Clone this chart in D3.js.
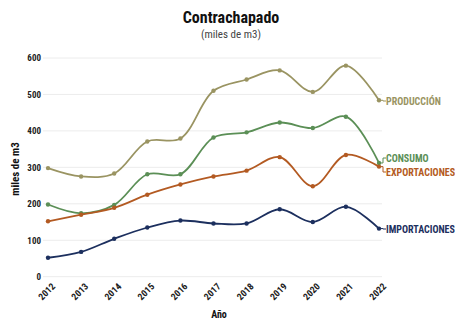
<!DOCTYPE html>
<html>
<head>
<meta charset="utf-8">
<script src="https://cdn.jsdelivr.net/npm/d3@7"></script>
<style>
  body { margin: 0; background: #fff; }
  svg text { font-family: "Roboto Condensed", "Liberation Sans Narrow", Roboto, sans-serif; }
</style>
</head>
<body>
<div id="vis"></div>
<script>
var years = [2012, 2013, 2014, 2015, 2016, 2017, 2018, 2019, 2020, 2021, 2022];
var produccion = [298, 275, 283, 371, 379, 510, 541, 566, 507, 579, 484];
var consumo = [198, 174, 197, 281, 281, 382, 396, 423, 408, 439, 312];
var exportaciones = [152, 170, 189, 225, 253, 275, 291, 328, 248, 334, 302];
var importaciones = [52, 68, 104, 135, 154, 146, 146, 185, 150, 192, 132];
var yTicks = [0, 100, 200, 300, 400, 500, 600];

var series = [
  {name: 'PRODUCCIÓN', values: produccion, color: '#9a9462', labelY: 101},
  {name: 'CONSUMO', values: consumo, color: '#5b8f56', labelY: 158},
  {name: 'EXPORTACIONES', values: exportaciones, color: '#b35a22', labelY: 172},
  {name: 'IMPORTACIONES', values: importaciones, color: '#1c2f5e', labelY: 229},
];

var width = 455;
var height = 322;
var margin = {top: 58, right: 73, bottom: 45, left: 48};

var svg = d3
  .select('#vis')
  .append('svg')
  .attr('width', width)
  .attr('height', height);

var x = d3
  .scalePoint()
  .domain(years)
  .range([margin.left, width - margin.right - 3]);

var y = d3
  .scaleLinear()
  .domain([0, 600])
  .range([height - margin.bottom - 0.3, margin.top]);

// title
svg
  .append('text')
  .attr('x', 231)
  .attr('y', 23)
  .attr('text-anchor', 'middle')
  .style('font-size', '16px')
  .style('font-weight', 'bold')
  .style('fill', '#111')
  .text('Contrachapado');

svg
  .append('text')
  .attr('x', 231)
  .attr('y', 38)
  .attr('text-anchor', 'middle')
  .style('font-size', '11px')
  .style('fill', '#444')
  .text('(miles de m3)');

// grid lines
svg
  .append('g')
  .selectAll('line')
  .data(yTicks)
  .enter()
  .append('line')
  .attr('x1', 43)
  .attr('x2', 382)
  .attr('y1', d => y(d))
  .attr('y2', d => y(d))
  .style('stroke', '#ececec')
  .style('stroke-width', 1);

// y axis
var yAxis = svg
  .append('g')
  .attr('transform', 'translate(43,0)')
  .call(d3.axisLeft(y).tickValues(yTicks).tickSize(0).tickPadding(2));
yAxis.select('.domain').remove();
yAxis
  .selectAll('text')
  .style('font-size', '9px')
  .style('font-weight', 'bold')
  .style('fill', '#222');

// x axis
var xAxis = svg
  .append('g')
  .attr('transform', `translate(0,${y(0)})`)
  .call(d3.axisBottom(x).tickSize(0));
xAxis.select('.domain').remove();
xAxis
  .selectAll('text')
  .attr('text-anchor', 'end')
  .attr('transform', 'translate(5,8) rotate(-45)')
  .attr('dy', '0.35em')
  .attr('y', 0)
  .style('font-size', '9.5px')
  .style('font-weight', 'bold')
  .style('fill', '#222');

// axis titles
svg
  .append('text')
  .attr('transform', 'translate(19,169) rotate(-90)')
  .attr('text-anchor', 'middle')
  .style('font-size', '11px')
  .style('font-weight', 'bold')
  .style('fill', '#111')
  .text('miles de m3');

svg
  .append('text')
  .attr('x', 219)
  .attr('y', 318)
  .attr('text-anchor', 'middle')
  .style('font-size', '10px')
  .style('font-weight', 'bold')
  .style('fill', '#111')
  .text('Año');

var line = d3
  .line()
  .x((d, i) => x(years[i]))
  .y(d => y(d))
  .curve(d3.curveCatmullRom);

var groups = svg
  .selectAll('.series')
  .data(series)
  .enter()
  .append('g')
  .attr('class', 'series');

groups
  .append('path')
  .attr('d', d => line(d.values))
  .style('fill', 'none')
  .style('stroke', d => d.color)
  .style('stroke-width', 1.8);

groups
  .selectAll('circle')
  .data(d => d.values.map(v => ({v: v, color: d.color})))
  .enter()
  .append('circle')
  .attr('cx', (d, i) => x(years[i]))
  .attr('cy', d => y(d.v))
  .attr('r', 2.2)
  .style('fill', d => d.color);

// end labels with connectors
var lastX = x(years[years.length - 1]);
groups
  .append('path')
  .attr('d', d => {
    var py = y(d.values[d.values.length - 1]);
    return `M${lastX},${py} L${lastX + 4},${py} L${lastX + 4},${d.labelY} L${lastX + 7},${d.labelY}`;
  })
  .style('fill', 'none')
  .style('stroke', d => d.color)
  .style('stroke-width', 1);

groups
  .append('text')
  .attr('x', lastX + 7)
  .attr('y', d => d.labelY)
  .attr('dy', '0.35em')
  .style('font-size', '10px')
  .style('font-weight', 'bold')
  .style('fill', d => d.color)
  .text(d => d.name);
</script>
</body>
</html>
